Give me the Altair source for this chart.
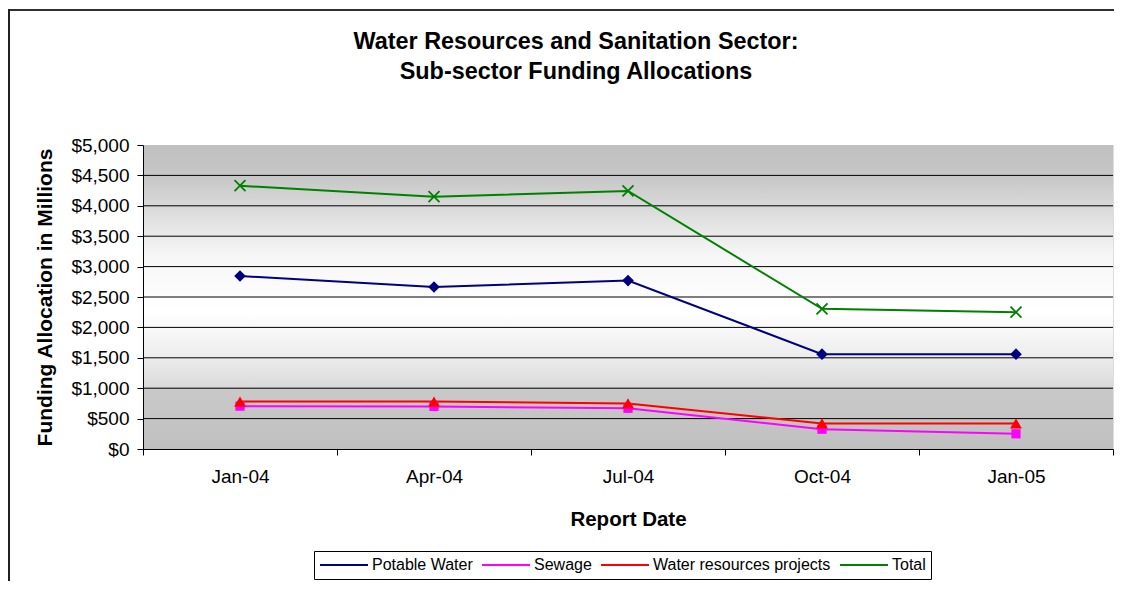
import altair as alt
import pandas as pd

# ---------------- data ----------------
dates = ["Jan-04", "Apr-04", "Jul-04", "Oct-04", "Jan-05"]
series = ["Potable Water", "Sewage", "Water resources projects", "Total"]
potable = [2845, 2665, 2770, 1560, 1560]
sewage = [705, 700, 670, 325, 250]
water = [780, 780, 750, 420, 420]
total = [4330, 4150, 4245, 2305, 2250]
y_ticks = [0, 500, 1000, 1500, 2000, 2500, 3000, 3500, 4000, 4500, 5000]

colors = ["#000080", "#FF00FF", "#FF0000", "#008000"]

rows = []
for name, vals in zip(series, [potable, sewage, water, total]):
    for i, (d, v) in enumerate(zip(dates, vals)):
        rows.append({"date": d, "idx": i, "series": name, "value": v})
df = pd.DataFrame(rows)
grid_df = pd.DataFrame({"value": y_ticks[1:-1]})
one = pd.DataFrame({"k": [0]})

W, H = 970, 304
FONT = "Liberation Sans"
x_mark = "M-1,-1L1,1M-1,1L1,-1"

y_scale = alt.Scale(domain=[0, 5000], nice=False, zero=True)
x_scale = alt.Scale(type="band", paddingInner=0, paddingOuter=0)

x_axis = alt.Axis(
    title="Report Date", labelAngle=0, tickBand="extent",
    labelFont=FONT, labelFontSize=19, labelColor="black", labelPadding=12,
    tickSize=6, tickColor="black", domainColor="black", grid=False,
    titleFont=FONT, titleFontSize=20.5, titleFontWeight="bold", titleColor="black",
    titleY=76, titleBaseline="alphabetic", zindex=1,
)
y_axis = alt.Axis(
    title="Funding Allocation in Millions", values=y_ticks, format="$,.0f",
    labelFont=FONT, labelFontSize=19, labelColor="black", labelPadding=8,
    tickSize=6, tickColor="black", domainColor="black", grid=False,
    titleFont=FONT, titleFontSize=21, titleFontWeight="bold", titleColor="black",
    titleAngle=-90, titleX=-92, titleY=H / 2, titleBaseline="alphabetic",
    titleAlign="center", zindex=1,
)
x_enc = alt.X("date:O", sort=dates, scale=x_scale, bandPosition=0.5, axis=x_axis)
y_enc = alt.Y("value:Q", scale=y_scale, axis=y_axis)
color_scale = alt.Scale(domain=series, range=colors)
color_nolegend = alt.Color("series:N", scale=color_scale, legend=None)

LEG = alt.Legend(
    title=None, orient="none", legendX=171, legendY=406, direction="horizontal",
    columns=4, symbolType="stroke", symbolSize=2304, symbolStrokeWidth=2,
    clipHeight=18, labelLimit=400,
    labelFont=FONT, labelFontSize=16, labelColor="black", labelOffset=3,
    columnPadding=8, padding=5, strokeColor="black", fillColor="white",
)

# ---------------- layers ----------------
bg = alt.Chart(one).mark_rect(
    fill=alt.Gradient(
        gradient="linear", x1=0, y1=0, x2=0, y2=1,
        stops=[
            alt.GradientStop(offset=0, color="#c0c0c0"),
            alt.GradientStop(offset=0.10, color="#c6c6c6"),
            alt.GradientStop(offset=0.36, color="#f6f6f6"),
            alt.GradientStop(offset=0.55, color="#ffffff"),
            alt.GradientStop(offset=0.70, color="#ececec"),
            alt.GradientStop(offset=0.797, color="#dadada"),
            alt.GradientStop(offset=0.80, color="#c9c9c9"),
            alt.GradientStop(offset=1, color="#c0c0c0"),
        ],
    )
).encode(x=alt.value(0), x2=alt.value("width"), y=alt.value(0), y2=alt.value("height"))

grid = alt.Chart(grid_df).mark_rule(color="black", strokeWidth=1).encode(y=y_enc)

frame_top = alt.Chart(one).mark_rule(stroke="#303030", strokeWidth=2).encode(
    x=alt.value(-135), x2=alt.value(971), y=alt.value(-135)
)
frame_left = alt.Chart(one).mark_rule(stroke="#202020", strokeWidth=2).encode(
    x=alt.value(-134), y=alt.value(-136), y2=alt.value(436)
)

base = alt.Chart(df)

lines = base.mark_line(strokeWidth=2).encode(
    x=x_enc, y=y_enc, order=alt.Order("idx:Q"),
    color=alt.Color("series:N", scale=color_scale, legend=LEG),
)

pt_specs = [
    ("Potable Water", "diamond", 135),
    ("Sewage", "square", 85),
    ("Water resources projects", "triangle-up", 140),
]
point_layers = []
for name, shp, sz in pt_specs:
    point_layers.append(
        base.transform_filter(alt.datum.series == name)
        .mark_point(shape=shp, filled=True, size=sz, opacity=1)
        .encode(x=x_enc, y=y_enc, color=color_nolegend)
    )
point_layers.append(
    base.transform_filter(alt.datum.series == "Total")
    .mark_point(shape=x_mark, filled=False, size=121, strokeWidth=1.8, opacity=1)
    .encode(x=x_enc, y=y_enc, color=color_nolegend)
)

chart = alt.layer(bg, grid, frame_top, frame_left, lines, *point_layers).properties(
    width=W, height=H,
    autosize=alt.AutoSizeParams(type="none"),
    padding={"left": 135, "top": 137, "right": 1, "bottom": 132},
    title=alt.TitleParams(
        text=["Water Resources and Sanitation Sector:", "Sub-sector Funding Allocations"],
        anchor="middle", frame="group", dx=-52, offset=-76, lineHeight=30,
        font=FONT, fontSize=23.4, fontWeight="bold", color="black",
    ),
).configure_view(stroke="#808080", strokeWidth=2).configure(background="white")

chart.save("out.html", embed_options={"renderer": "svg", "actions": False})
